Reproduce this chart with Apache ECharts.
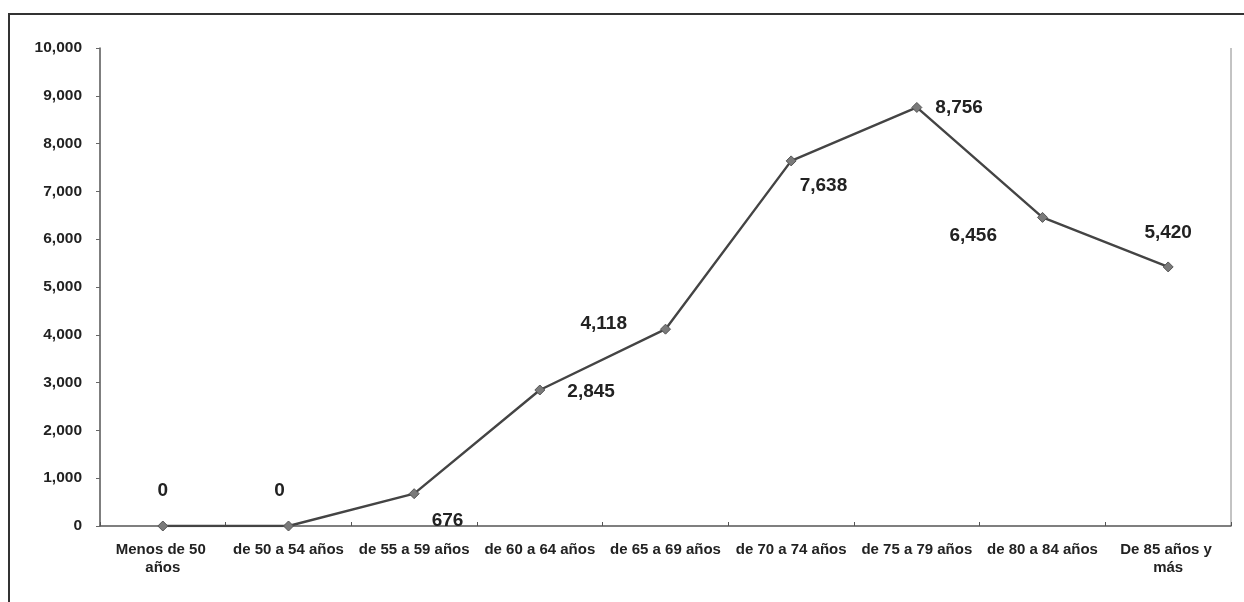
<!DOCTYPE html>
<html>
<head>
<meta charset="utf-8">
<script src="https://cdn.jsdelivr.net/npm/echarts@6/dist/echarts.min.js"></script>
<style>
html,body{margin:0;padding:0;background:#fff;}
#c{width:1244px;height:602px;}
</style>
</head>
<body>
<div id="c"></div>
<script>
const categories = ["Menos de 50 años","de 50 a 54 años","de 55 a 59 años","de 60 a 64 años","de 65 a 69 años","de 70 a 74 años","de 75 a 79 años","de 80 a 84 años","De 85 años y más"];
const values = [0, 0, 676, 2845, 4118, 7638, 8756, 6456, 5420];
const yTicks = {min: 0, max: 10000, interval: 1000};

const labelPlacement = [
  {position: 'top', distance: 20, offset: [0, 0]},
  {position: 'top', distance: 20, offset: [-9, 0]},
  {position: 'right', distance: 12, offset: [0, 27]},
  {position: 'right', distance: 22, offset: [0, 2]},
  {position: 'left', distance: 33, offset: [0, -5]},
  {position: 'right', distance: 3, offset: [0, 25]},
  {position: 'right', distance: 13, offset: [0, 0]},
  {position: 'left', distance: 40, offset: [0, 18]},
  {position: 'top', distance: 19, offset: [0, 0]}
];

const chart = echarts.init(document.getElementById('c'));
const fmt = v => v.toLocaleString('en-US');
chart.setOption({
  animation: false,
  backgroundColor: '#fff',
  graphic: [
    {type: 'rect', shape: {x: 9, y: 14, width: 1300, height: 700}, style: {fill: 'none', stroke: '#333', lineWidth: 2}, silent: true},
    {type: 'line', shape: {x1: 1231, y1: 48, x2: 1231, y2: 526}, style: {stroke: '#888', lineWidth: 1}, silent: true}
  ],
  grid: {left: 100, right: 13, top: 48, bottom: 76},
  xAxis: {
    type: 'category',
    data: categories,
    boundaryGap: true,
    axisLine: {lineStyle: {color: '#555', width: 1.5}},
    axisTick: {show: true, inside: true, length: 4, lineStyle: {color: '#555'}},
    axisLabel: {
      interval: 0, margin: 15, color: '#222', fontFamily: 'Liberation Sans, Arial', fontWeight: 'bold', fontSize: 15,
      width: 119, overflow: 'break', lineHeight: 18
    }
  },
  yAxis: {
    type: 'value',
    min: yTicks.min, max: yTicks.max, interval: yTicks.interval,
    axisLine: {show: true, lineStyle: {color: '#555', width: 1.5}},
    axisTick: {show: true, length: 4, lineStyle: {color: '#666'}},
    splitLine: {show: false},
    axisLabel: {margin: 18, color: '#222', fontFamily: 'Liberation Sans, Arial', fontWeight: 'bold', fontSize: 15.5, formatter: v => fmt(v)}
  },
  series: [{
    type: 'line',
    data: values.map((v, i) => ({value: v, label: {position: labelPlacement[i].position, distance: labelPlacement[i].distance, offset: labelPlacement[i].offset}})),
    symbol: 'diamond',
    symbolSize: 10,
    lineStyle: {color: '#444', width: 2.4},
    itemStyle: {color: '#7a7a7a', borderColor: '#555', borderWidth: 1},
    label: {show: true, color: '#222', fontFamily: 'Liberation Sans, Arial', fontWeight: 'bold', fontSize: 19, formatter: p => fmt(p.value)}
  }]
});
</script>
</body>
</html>
